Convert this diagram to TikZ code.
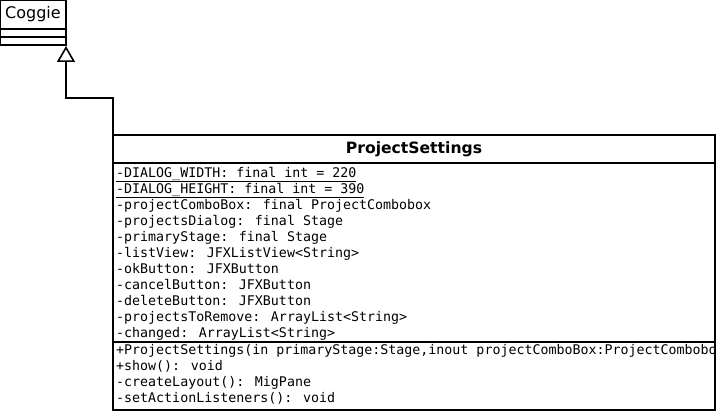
\documentclass[tikz,border=0pt]{standalone}
\usepackage{fontspec}
\setmainfont{DejaVu Sans}
\newfontfamily\umlmono{DejaVu Sans Mono}
\usetikzlibrary{arrows.meta}
\newcommand\membfont{\umlmono\fontsize{13.3}{16}\selectfont}
\newcommand\staticmember[1]{\setbox0\hbox{#1}\rlap{\vrule height -4pt depth 5pt width \wd0}\box0}
\begin{document}
\begin{tikzpicture}[
  x=1pt, y=-1pt,
  compartment/.style = {draw, line width=1.6pt, outer sep=0pt, inner sep=0pt, anchor=north west},
  member/.style = {anchor=base west, inner sep=0pt, font=\membfont},
  inherit/.style = {-{Triangle[open, length=16pt, width=18pt]}, line width=1.6pt, shorten >=1pt}]
  \useasboundingbox (0,0) rectangle (717,412);

  % trieda Coggie
  \node[compartment, minimum width=66pt, minimum height=29pt, font=\fontsize{16}{19}\selectfont] (coggie) at (0,0) {Coggie};
  \node[compartment, minimum width=66pt, minimum height=8pt] (coggie attr) at (coggie.south west) {};
  \node[compartment, minimum width=66pt, minimum height=8pt] (coggie ops) at (coggie attr.south west) {};

  % trieda ProjectSettings
  \node[compartment, minimum width=602pt, minimum height=28pt, font=\bfseries\fontsize{15.6}{18}\selectfont] (settings) at (113,135) {ProjectSettings};
  \node[compartment, minimum width=602pt, minimum height=179pt] (settings attr) at (settings.south west) {};
  \node[compartment, minimum width=602pt, minimum height=68pt] (settings ops) at (settings attr.south west) {};

  % atributy
  \foreach \txt [count=\i] in {
      \staticmember{-DIALOG\_WIDTH: final int = 220},
      \staticmember{-DIALOG\_HEIGHT: final int = 390},
      -projectComboBox: final ProjectCombobox,
      -projectsDialog: final Stage,
      -primaryStage: final Stage,
      -listView: JFXListView<String>,
      -okButton: JFXButton,
      -cancelButton: JFXButton,
      -deleteButton: JFXButton,
      -projectsToRemove: ArrayList<String>,
      -changed: ArrayList<String>}
    \node[member] (attr \i) at (116, 161+16*\i) {\txt};

  % metody
  \foreach \txt [count=\i] in {
      {+ProjectSettings(in primaryStage:Stage,inout projectComboBox:ProjectCombobo},
      +show(): void,
      -createLayout(): MigPane,
      -setActionListeners(): void}
    \node[member] (op \i) at (116, 338+16*\i) {\txt};

  % dedenie
  \draw[inherit] (settings.north west) |- ([yshift=-53pt]coggie ops.south east) -- (coggie ops.south east);
\end{tikzpicture}
\end{document}
